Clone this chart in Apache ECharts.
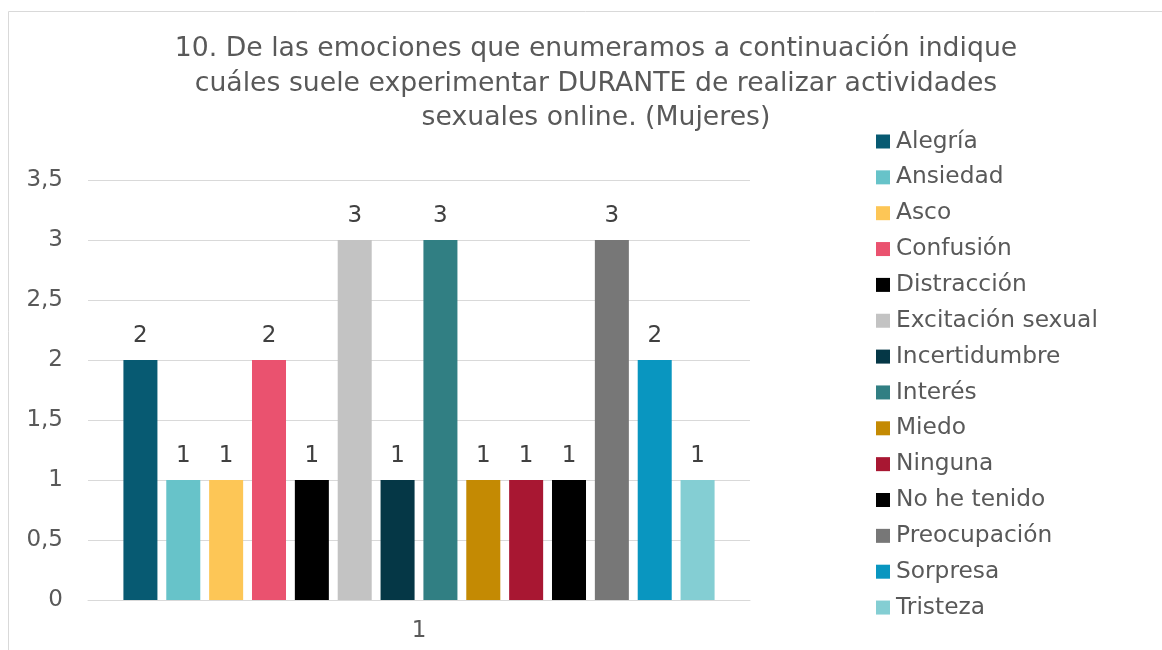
<!DOCTYPE html>
<html>
<head>
<meta charset="utf-8">
<script src="https://cdn.jsdelivr.net/npm/echarts@6/dist/echarts.min.js"></script>
<style>html,body{margin:0;padding:0;background:#fff}#c{width:1162px;height:650px}</style>
</head>
<body>
<div id="c"></div>
<script>
const categories = ['1'];
const seriesNames = ['Alegría','Ansiedad','Asco','Confusión','Distracción','Excitación sexual','Incertidumbre','Interés','Miedo','Ninguna','No he tenido','Preocupación','Sorpresa','Tristeza'];
const seriesValues = [2,1,1,2,1,3,1,3,1,1,1,3,2,1];
const seriesColors = ['#075a72','#67c3c9','#fdc656','#ea526f','#000000','#c3c3c3','#053746','#317f83','#c48a03','#a81732','#000000','#777777','#0996c0','#84ced3'];
const titleText = '10. De las emociones que enumeramos a continuación indique\ncuáles suele experimentar DURANTE de realizar actividades\nsexuales online. (Mujeres)';

const FONT = 'DejaVu Sans';
const chart = echarts.init(document.getElementById('c'));
chart.setOption({
  animation: false,
  textStyle: { fontFamily: FONT },
  title: {
    text: titleText,
    left: 591, top: 27, textAlign: 'center',
    textStyle: { fontFamily: FONT, fontSize: 26.7, fontWeight: 'normal', color: '#595959', lineHeight: 34.5 }
  },
  legend: {
    orient: 'vertical', left: 871, top: 124.5,
    itemWidth: 14, itemHeight: 14, itemGap: 11.85,
    icon: 'rect',
    textStyle: { fontFamily: FONT, fontSize: 23.3, color: '#595959', lineHeight: 24, padding: [0, 0, 0, 1] },
    data: seriesNames
  },
  grid: { left: 88, right: 412, top: 180, bottom: 50, containLabel: false },
  xAxis: {
    type: 'category', data: categories,
    axisLine: { lineStyle: { color: '#d9d9d9', width: 1 } },
    axisTick: { show: false },
    axisLabel: { fontFamily: FONT, fontSize: 23, color: '#595959', margin: 20 }
  },
  yAxis: {
    type: 'value', min: 0, max: 3.5, interval: 0.5,
    axisLine: { show: false }, axisTick: { show: false },
    splitLine: { lineStyle: { color: '#d9d9d9', width: 1 } },
    axisLabel: { fontFamily: FONT, fontSize: 23, color: '#595959', margin: 25,
      formatter: v => String(v).replace('.', ',') }
  },
  graphic: [{
    type: 'rect', shape: { x: 8.5, y: 11.5, width: 1160, height: 660 },
    style: { fill: 'none', stroke: '#d9d9d9', lineWidth: 1 }, silent: true
  }],
  series: seriesNames.map((n, i) => ({
    name: n, type: 'bar',
    data: [seriesValues[i]],
    itemStyle: { color: seriesColors[i] },
    barGap: '26%', barCategoryGap: '10.7%',
    label: { show: true, position: 'top', distance: 12, fontFamily: FONT, fontSize: 23, color: '#404040' }
  }))
});
</script>
</body>
</html>
